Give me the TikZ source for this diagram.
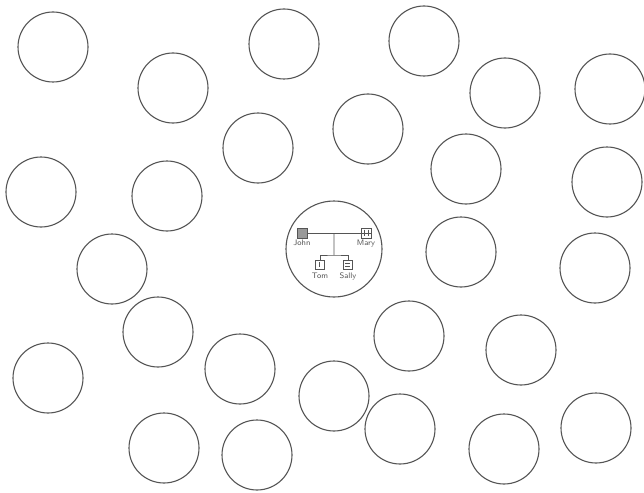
\documentclass[tikz,border=0pt]{standalone}
\usepackage{tikz}
\usetikzlibrary{positioning, calc}
\definecolor{ring}{RGB}{85, 85, 85}
\definecolor{mark}{RGB}{110, 110, 110}

\begin{document}
\begin{tikzpicture}[x=1pt, y=-1pt,
    bubble/.style={circle, draw=ring, line width=1.1pt, minimum size=70pt, inner sep=0pt},
    person/.style={rectangle, draw=ring, line width=0.7pt, minimum size=10pt, inner sep=0pt},
    who/.style={font=\sffamily\fontsize{8}{8}\selectfont, text=ring, inner sep=0.5pt},
    tie/.style={draw=ring, line width=0.7pt}]
  \useasboundingbox (0, 0) rectangle (644, 492);
  \fill[white] (0, 0) rectangle (644, 492);

  % empty bubbles
  \foreach \n/\x/\y in {1/53/47, 2/173/88, 3/284/44, 4/424/41, 5/505/93, 6/610/89,
                        7/368/129, 8/258/148, 9/466/169, 10/607/182, 11/41/192,
                        12/167/196, 14/112/269, 15/461/252, 16/595/268, 17/158/332,
                        18/409/336, 19/521/350, 20/48/378, 21/240/369, 22/334/396,
                        23/400/429, 24/596/428, 25/164/448, 26/257/455, 27/504/449} {
    \node[bubble] (c\n) at (\x, \y) {};
  }

  % the bubble with the family tree
  \node[bubble, minimum size=96pt] (c13) at (334, 249) {};

  \node[person, fill=mark!70] (john) at (302, 233) {};
  \node[person] (mary) at (366, 233) {};
  \draw[tie] (mary.north) ++(-2, 2) -- ++(0, 6) ++(4, -6) -- ++(0, 6);
  \draw[tie] (mary.west) -- (mary.east);
  \node[who, below=1pt of john] (johnlbl) {John};
  \node[who, below=1pt of mary] (marylbl) {Mary};

  \coordinate (wed) at ($(john.east)!0.5!(mary.west)$);
  \draw[tie] (john.east) -- (mary.west);

  \node[person, minimum size=9pt] (tom) at (320, 265) {};
  \node[person, minimum size=9pt] (sally) at (348, 265) {};
  \draw[tie] (tom.north) ++(-1, 2) -- ++(0, 5);
  \draw[tie] (sally.west) ++(2, -1.2) -- ++(5, 0) (sally.west) ++(2, 1.2) -- ++(5, 0);
  \node[who, below=2pt of tom] (tomlbl) {Tom};
  \node[who, below=2pt of sally] (sallylbl) {Sally};

  \coordinate (kids) at (334, 255);
  \draw[tie] (wed) -- (kids);
  \draw[tie] (tom.north) |- (kids) -| (sally.north);
\end{tikzpicture}
\end{document}
